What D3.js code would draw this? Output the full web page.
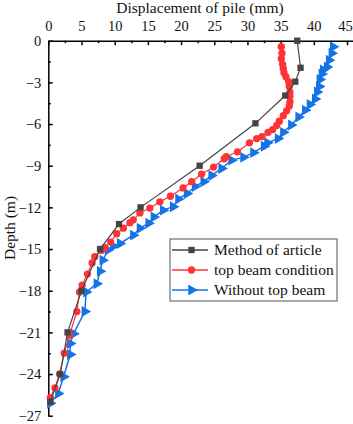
<!DOCTYPE html>
<html>
<head>
<meta charset="utf-8">
<script src="https://cdn.jsdelivr.net/npm/d3@7"></script>
<style>
  body { margin: 0; background: #fff; }
  svg text { font-family: "Liberation Serif", "Times New Roman", serif; }
</style>
</head>
<body>
<div id="chart"></div>
<script>
// depth (m) and displacement (mm)
const seriesNames = ["Method of article", "top beam condition", "Without top beam"];

const articleDepth = [0, -1.95, -2.95, -3.95, -5.95, -9, -12, -13.2, -15, -18, -21, -24, -26];
const articleDisp  = [37.5, 38.0, 37.2, 35.7, 31.2, 22.8, 13.9, 10.65, 7.8, 5.0, 2.9, 1.8, 0.3];

const beamDepth = [-0.43, -0.9, -1.3, -1.7, -2.0, -2.3, -2.6, -2.95, -3.3, -3.7, -4.0, -4.4, -4.7,
  -5.05, -5.4, -5.8, -6.1, -6.4, -6.6, -6.9, -7.05, -7.35, -8.0, -8.35, -8.5, -9.1, -9.6, -10.15,
  -10.6, -11.2, -11.6, -12.05, -12.4, -12.9, -13.1, -13.5, -13.9, -14.5, -14.9, -15.1, -15.55, -16.0,
  -16.8, -17.6, -18.1, -19.5, -21.2, -22.5, -24.0, -25.0, -25.7];
const beamDisp = [35.1, 35.2, 35.1, 35.3, 35.4, 35.5, 35.8, 36.2, 36.3, 36.4, 36.4, 36.4, 36.3,
  35.9, 35.4, 34.8, 34.4, 33.8, 33.1, 32.2, 31.4, 30.3, 28.5, 26.8, 26.5, 24.9, 23.1, 21.6,
  20.3, 18.4, 16.8, 15.3, 13.8, 12.8, 12.3, 11.3, 10.3, 9.4, 8.5, 8.0, 7.0, 6.6,
  5.9, 5.1, 4.7, 4.3, 3.2, 2.4, 1.7, 1.0, 0.3];

const noBeamDepth = [-0.43, -0.9, -1.4, -1.9, -2.1, -2.4, -2.8, -3.3, -3.7, -4.2, -4.6, -5.0, -5.5,
  -6.07, -6.6, -7.05, -7.35, -7.6, -8.06, -8.4, -8.6, -9.2, -9.7, -10.15, -10.5, -11.0, -11.4,
  -11.95, -12.2, -12.7, -13.15, -13.5, -14.0, -14.6, -14.8, -15.07, -15.8, -16.6, -17.5, -18.1,
  -19.5, -21.1, -21.8, -22.6, -24.2, -25.4, -26.1];
const noBeamDisp = [42.9, 42.7, 42.3, 42.0, 41.4, 41.2, 40.9, 40.8, 40.5, 40.2, 39.4, 38.7, 37.7,
  36.6, 35.4, 34.6, 33.0, 32.5, 30.9, 29.4, 27.6, 26.1, 24.6, 23.4, 22.1, 20.9, 19.6,
  18.8, 17.3, 15.9, 15.1, 13.8, 12.8, 10.8, 9.8, 9.0, 8.2, 7.8, 7.3, 5.7,
  5.5, 3.8, 3.3, 3.3, 2.3, 1.5, 0.3];

const xTicks = [0, 5, 10, 15, 20, 25, 30, 35, 40, 45];
const yTicks = [0, -3, -6, -9, -12, -15, -18, -21, -24, -27];

const W = 353, H = 424;
const svg = d3.select("#chart").append("svg").attr("width", W).attr("height", H);

const x = d3.scaleLinear().domain([0, 45.9]).range([48.3, 353]);
const y = d3.scaleLinear().domain([0, -27]).range([40.7, 415.7]);

// minor ticks
svg.append("g")
    .attr("transform", "translate(0," + y(0) + ")")
    .call(d3.axisTop(x).tickValues(d3.range(2.5, 46, 5)).tickSize(-2.5).tickFormat(""))
    .call(g => g.select(".domain").remove())
    .selectAll("line").attr("stroke-width", 1.5);
svg.append("g")
    .attr("transform", "translate(" + x(0) + ",0)")
    .call(d3.axisLeft(y).tickValues(d3.range(-1.5, -27, -3)).tickSize(-2.5).tickFormat(""))
    .call(g => g.select(".domain").remove())
    .selectAll("line").attr("stroke-width", 1.5);

// main axes
let xAxis = svg.append("g")
    .attr("transform", "translate(0," + y(0) + ")")
    .call(d3.axisTop(x).tickValues(xTicks).tickSize(-4.5).tickSizeOuter(0).tickPadding(10));
let yAxis = svg.append("g")
    .attr("transform", "translate(" + x(0) + ",0)")
    .call(d3.axisLeft(y).tickValues(yTicks).tickSize(-4.5).tickSizeOuter(0).tickPadding(7));

[xAxis, yAxis].forEach(function(a) {
    a.select(".domain").attr("stroke-width", 1.5);
    a.selectAll("line").attr("stroke-width", 1.5);
    a.selectAll("text")
        .attr("font-size", 14.5)
        .attr("fill", "#111");
});
// last label sits at the right edge of the picture
xAxis.selectAll("text").filter(d => d == 45).attr("dx", -2);

svg.append("text")
    .attr("x", 200).attr("y", 13)
    .attr("text-anchor", "middle")
    .attr("font-size", 15.5)
    .attr("fill", "#111")
    .text("Displacement of pile (mm)");

svg.append("text")
    .attr("transform", "translate(15,228) rotate(-90)")
    .attr("text-anchor", "middle")
    .attr("font-size", 15.5)
    .attr("fill", "#111")
    .text("Depth (m)");

const colors = ["#444444", "#ff3333", "#1573e6"];
const series = [
    articleDepth.map((d, i) => ({d: d, v: articleDisp[i]})),
    beamDepth.map((d, i) => ({d: d, v: beamDisp[i]})),
    noBeamDepth.map((d, i) => ({d: d, v: noBeamDisp[i]}))
];

const line = d3.line().x(p => x(p.v)).y(p => y(p.d));

const sq = d3.symbol().type(d3.symbolSquare).size(40);
const circ = d3.symbol().type(d3.symbolCircle).size(42);
const tri = d3.symbol().type(d3.symbolTriangle).size(52);

function drawMarker(g, k) {
    let p = g.append("path").attr("fill", colors[k]);
    if (k == 0) p.attr("d", sq);
    else if (k == 1) p.attr("d", circ);
    else p.attr("d", tri).attr("transform", "rotate(90)");
}

// draw blue first, then red, black on top
[2, 1, 0].forEach(function(k) {
    svg.append("path")
        .datum(series[k])
        .attr("fill", "none")
        .attr("stroke", colors[k])
        .attr("stroke-width", k == 2 ? 1.5 : 1.2)
        .attr("d", line);
    svg.append("g").selectAll("g")
        .data(series[k])
        .enter().append("g")
        .attr("transform", p => "translate(" + x(p.v) + "," + y(p.d) + ")")
        .each(function() { drawMarker(d3.select(this), k); });
});

// legend
let legend = svg.append("g").attr("transform", "translate(170,239)");
legend.append("rect")
    .attr("width", 167).attr("height", 62)
    .attr("fill", "#fff").attr("stroke", "#555").attr("stroke-width", 1);
seriesNames.forEach(function(name, k) {
    let row = legend.append("g").attr("transform", "translate(0," + (11 + k * 20) + ")");
    row.append("line").attr("x1", 2).attr("x2", 38)
        .attr("stroke", colors[k]).attr("stroke-width", 1.5);
    let m = row.append("g").attr("transform", "translate(21.5,0)");
    drawMarker(m, k);
    row.append("text").attr("x", 44).attr("y", 5)
        .attr("font-size", 15.5).attr("fill", "#111").text(name);
});
</script>
</body>
</html>
